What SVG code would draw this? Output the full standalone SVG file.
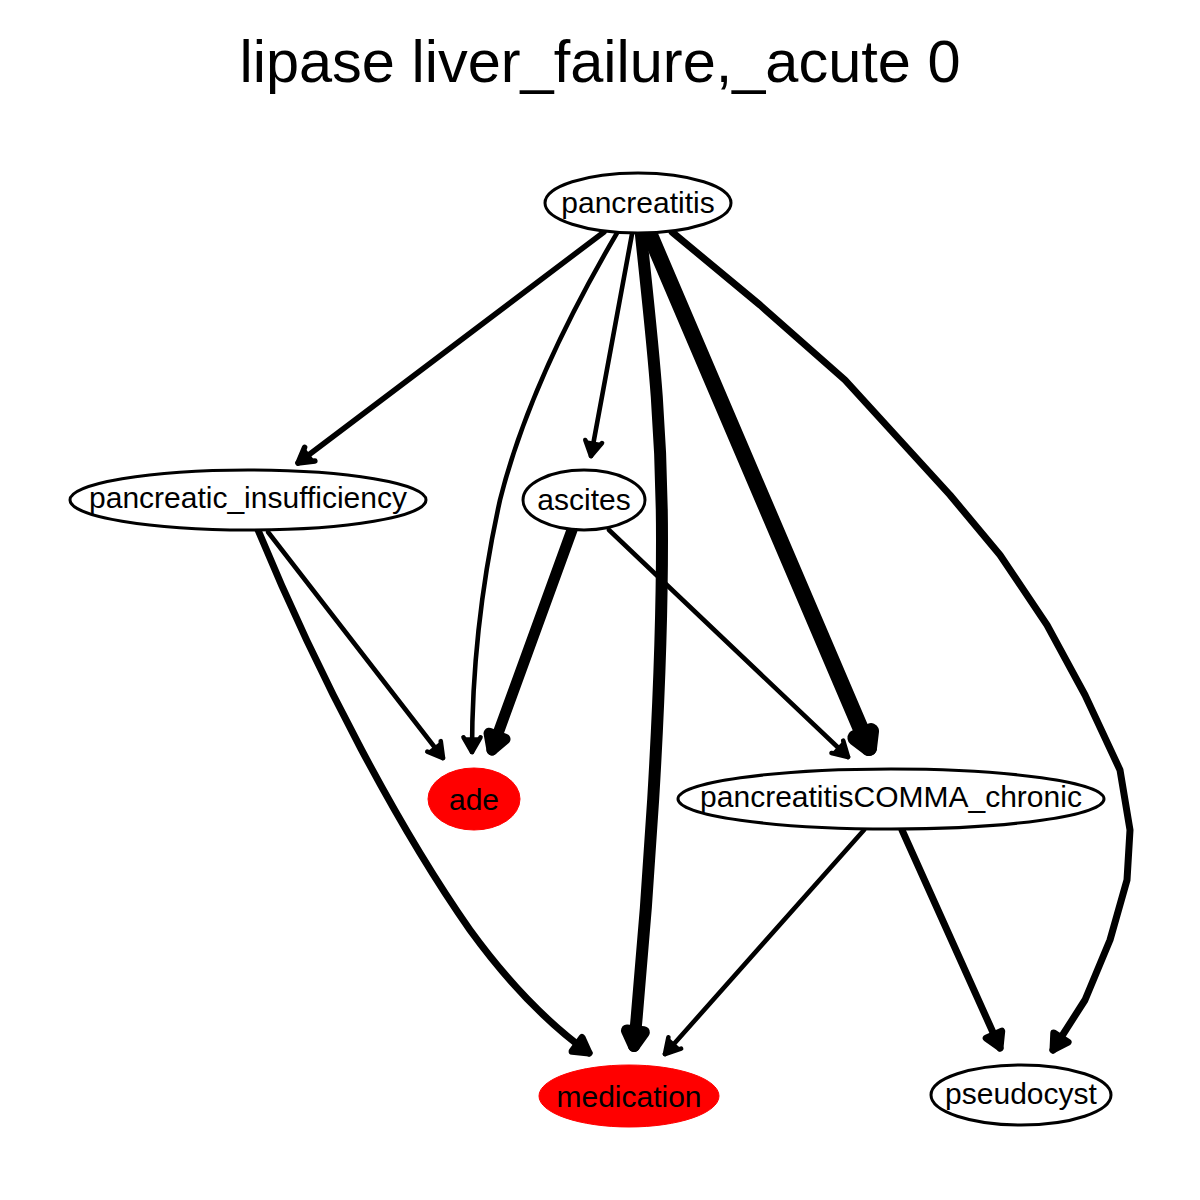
<svg xmlns="http://www.w3.org/2000/svg" width="1200" height="1200" viewBox="0 0 1200 1200">
  <style>
    .title { font-family: "Liberation Sans", Arial, sans-serif; font-size: 59.5px; fill: #000; }
    .label { font-family: "Liberation Sans", Arial, sans-serif; font-size: 30px; fill: #000; text-anchor: middle; }
    .node { fill: #fff; stroke: #000; stroke-width: 3; }
    .hit { fill: #ff0000; stroke: #ff0000; stroke-width: 1; }
    .edge { fill: none; stroke: #000; stroke-linecap: round; stroke-linejoin: round; }
    .head { fill: #000; stroke: #000; stroke-linecap: round; stroke-linejoin: round; }
  </style>
  <defs>
    <marker id="a4" markerUnits="userSpaceOnUse" orient="auto" refX="0" refY="0" markerWidth="60" markerHeight="60" overflow="visible">
      <path class="head" d="M -14.7 -8.5 L 0 0 L -14.7 8.5" fill="none" stroke-width="4.6"/>
    </marker>
    <marker id="a5" markerUnits="userSpaceOnUse" orient="auto" refX="0" refY="0" markerWidth="60" markerHeight="60" overflow="visible">
      <path class="head" d="M -14.7 -8.5 L 0 0 L -14.7 8.5" fill="none" stroke-width="5.5"/>
    </marker>
    <marker id="a7" markerUnits="userSpaceOnUse" orient="auto" refX="0" refY="0" markerWidth="60" markerHeight="60" overflow="visible">
      <path class="head" d="M -14.7 -8.5 L 0 0 L -14.7 8.5 Z" stroke-width="7"/>
    </marker>
    <marker id="a11" markerUnits="userSpaceOnUse" orient="auto" refX="0" refY="0" markerWidth="60" markerHeight="60" overflow="visible">
      <path class="head" d="M -14.7 -8.5 L 0 0 L -14.7 8.5 Z" stroke-width="11"/>
    </marker>
    <marker id="a12" markerUnits="userSpaceOnUse" orient="auto" refX="0" refY="0" markerWidth="60" markerHeight="60" overflow="visible">
      <path class="head" d="M -14.7 -8.5 L 0 0 L -14.7 8.5 Z" stroke-width="12"/>
    </marker>
    <marker id="a16" markerUnits="userSpaceOnUse" orient="auto" refX="0" refY="0" markerWidth="60" markerHeight="60" overflow="visible">
      <path class="head" d="M -14.7 -8.5 L 0 0 L -14.7 8.5 Z" stroke-width="16"/>
    </marker>
  </defs>

  <rect width="1200" height="1200" fill="#fff"/>
  <text class="title" x="600" y="82" text-anchor="middle">lipase liver_failure,_acute 0</text>

  <g id="edges">
    <!-- pancreatitis -> pancreatic_insufficiency -->
    <path class="edge" stroke-width="5.5" marker-end="url(#a5)" d="M604,232 L298,463"/>
    <!-- pancreatitis -> ade -->
    <path class="edge" stroke-width="4.6" marker-end="url(#a4)" d="M617,233 C560,330 520,420 500,500 C480,590 472,680 472,752"/>
    <!-- pancreatitis -> ascites -->
    <path class="edge" stroke-width="4.6" marker-end="url(#a4)" d="M632,234 L591,456"/>
    <!-- pancreatitis -> medication -->
    <path class="edge" stroke-width="12" marker-end="url(#a12)" d="M641,235 C652,340 662,420 662,540 C662,700 648,900 634,1046"/>
    <!-- pancreatitis -> pancreatitisCOMMA_chronic -->
    <path class="edge" stroke-width="16" marker-end="url(#a16)" d="M650,235 L869,748"/>
    <!-- pancreatitis -> pseudocyst -->
    <path class="edge" stroke-width="7" marker-end="url(#a7)" d="M672,232 L760,305 L845,380 L950,495 L1000,555 L1047,625 L1085,695 L1120,770 L1130,830 L1127,880 L1110,940 L1085,1000 L1053,1050"/>
    <!-- pancreatic_insufficiency -> ade -->
    <path class="edge" stroke-width="4.6" marker-end="url(#a4)" d="M268,532 L443,758"/>
    <!-- pancreatic_insufficiency -> medication -->
    <path class="edge" stroke-width="7" marker-end="url(#a7)" d="M258,530 C320,680 400,830 470,930 C510,985 550,1025 589,1053"/>
    <!-- ascites -> ade -->
    <path class="edge" stroke-width="11" marker-end="url(#a11)" d="M572,530 L492,750"/>
    <!-- ascites -> pancreatitisCOMMA_chronic -->
    <path class="edge" stroke-width="4.6" marker-end="url(#a4)" d="M609,530 L848,757"/>
    <!-- pancreatitisCOMMA_chronic -> medication -->
    <path class="edge" stroke-width="4.6" marker-end="url(#a4)" d="M864,830 L665,1054"/>
    <!-- pancreatitisCOMMA_chronic -> pseudocyst -->
    <path class="edge" stroke-width="7" marker-end="url(#a7)" d="M902,830 L1000,1048"/>
  </g>

  <g id="pancreatitis">
    <ellipse class="node" cx="638" cy="203" rx="93" ry="30"/>
    <text class="label" x="638" y="213">pancreatitis</text>
  </g>
  <g id="pancreatic_insufficiency">
    <ellipse class="node" cx="248" cy="500" rx="178" ry="30"/>
    <text class="label" x="248" y="508">pancreatic_insufficiency</text>
  </g>
  <g id="ascites">
    <ellipse class="node" cx="584" cy="500" rx="61" ry="30"/>
    <text class="label" x="584" y="510">ascites</text>
  </g>
  <g id="ade">
    <ellipse class="hit" cx="474" cy="799" rx="46" ry="31"/>
    <text class="label" x="474" y="810">ade</text>
  </g>
  <g id="pancreatitisCOMMA_chronic">
    <ellipse class="node" cx="891" cy="799" rx="213" ry="30"/>
    <text class="label" x="891" y="807">pancreatitisCOMMA_chronic</text>
  </g>
  <g id="medication">
    <ellipse class="hit" cx="629" cy="1096" rx="90" ry="31"/>
    <text class="label" x="629" y="1107">medication</text>
  </g>
  <g id="pseudocyst">
    <ellipse class="node" cx="1021" cy="1095" rx="90" ry="30"/>
    <text class="label" x="1021" y="1104">pseudocyst</text>
  </g>
</svg>
